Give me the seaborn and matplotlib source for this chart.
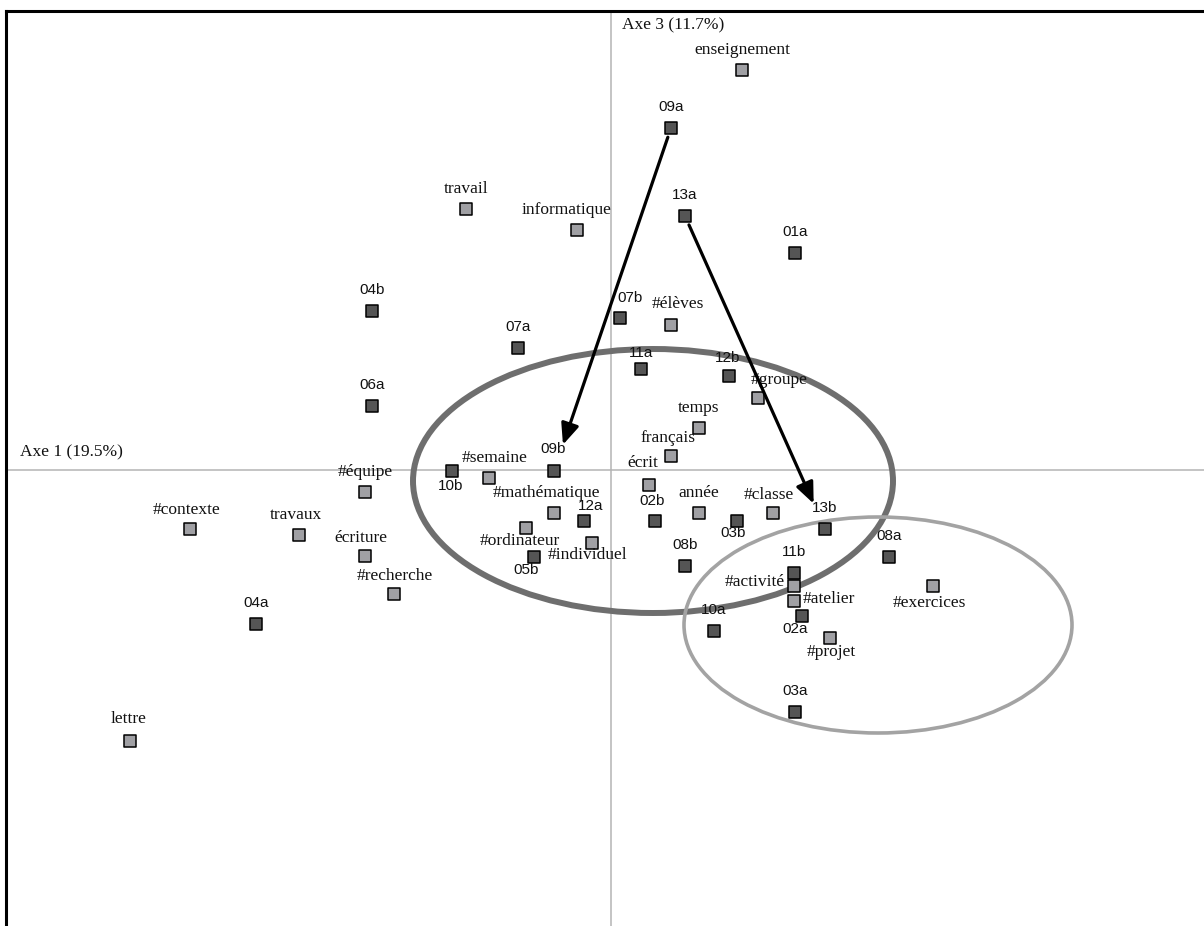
import matplotlib
matplotlib.use("Agg")
import matplotlib.pyplot as plt
from matplotlib.patches import Ellipse
import seaborn as sns
import pandas as pd

sns.set_theme(context='notebook', style="white")

# Factor scores (axe 1 horizontal, axe 3 vertical)
words = ['enseignement', 'travail', 'informatique', '#élèves', '#groupe', 'temps',
         'français', 'écrit', '#semaine', '#équipe', '#mathématique', 'année',
         '#classe', '#contexte', 'travaux', 'écriture', '#ordinateur', '#individuel',
         '#recherche', '#activité', '#atelier', '#exercices', '#projet', 'lettre']
words_x = [0.524, -0.580, -0.136, 0.240, 0.588, 0.352,
           0.240, 0.152, -0.488, -0.984, -0.228, 0.352,
           0.648, -1.684, -1.248, -0.984, -0.340, -0.076,
           -0.868, 0.732, 0.732, 1.288, 0.876, -1.924]
words_y = [1.600, 1.044, 0.960, 0.580, 0.288, 0.168,
           0.056, -0.060, -0.032, -0.088, -0.172, -0.172,
           -0.172, -0.236, -0.260, -0.344, -0.232, -0.292,
           -0.496, -0.464, -0.524, -0.464, -0.672, -1.084]

docs = ['09a', '13a', '01a', '04b', '07b', '07a', '11a', '12b', '06a', '09b',
        '10b', '02b', '12a', '03b', '13b', '05b', '08b', '08a', '11b', '10a',
        '02a', '03a', '04a']
docs_x = [0.240, 0.296, 0.736, -0.956, 0.036, -0.372, 0.120, 0.472, -0.956, -0.228,
          -0.636, 0.176, -0.108, 0.504, 0.856, -0.308, 0.296, 1.112, 0.732, 0.412,
          0.764, 0.736, -1.420]
docs_y = [1.368, 1.016, 0.868, 0.636, 0.608, 0.488, 0.404, 0.376, 0.256, -0.004,
          -0.004, -0.204, -0.204, -0.204, -0.236, -0.348, -0.384, -0.348, -0.412, -0.644,
          -0.584, -0.968, -0.616]

# document moves
moves = [('09a', '09b'), ('13a', '13b')]

# clusters: centre x, centre y, width, height
cluster_x = [0.168, 1.068]
cluster_y = [-0.044, -0.620]
cluster_w = [1.920, 1.552]
cluster_h = [1.056, 0.864]

axis_labels = ['Axe 1 (19.5%)', 'Axe 3 (11.7%)']

# label offsets in pixels (dx, dy up)
label_offsets = {
    'informatique': (-10, 20), '#élèves': (7, 21), '#groupe': (21, 18),
    'français': (-3, 18), 'écrit': (-6, 22), '#semaine': (6, 20),
    '#mathématique': (-8, 20), '#classe': (-4, 18), '#contexte': (-3, 19),
    'travaux': (-3, 20), 'écriture': (-4, 18), '#ordinateur': (-6, -13),
    '#individuel': (-4, -12), '#recherche': (1, 18), '#activité': (-39, 4),
    '#atelier': (35, 2), '#exercices': (-4, -17), '#projet': (1, -14),
    'lettre': (-1, 22), '07b': (10, 20), '11a': (0, 16), '12b': (-1, 18),
    '09b': (-1, 22), '10b': (-1, -15), '12a': (7, 15), '02b': (-3, 20),
    '03b': (-4, -12), '05b': (-8, -13), '02a': (-7, -13),
}

df = pd.concat([
    pd.DataFrame({'label': words, 'x': words_x, 'y': words_y, 'kind': 'mot'}),
    pd.DataFrame({'label': docs, 'x': docs_x, 'y': docs_y, 'kind': 'texte'}),
], ignore_index=True)

fig = plt.figure(figsize=(12.04, 9.26), dpi=100)
ax = fig.add_axes([6 / 1204, 0, 1 - 6 / 1204, 1 - 11 / 926])

ax.axhline(0, color='#b4b4b4', lw=1.1, zorder=1)
ax.axvline(0, color='#b4b4b4', lw=1.1, zorder=1)

ell_colors = ['#6e6e6e', '#a3a3a3']
ell_widths = [4.3, 2.6]
for cx, cy, w, h, c, lw in zip(cluster_x, cluster_y, cluster_w, cluster_h, ell_colors, ell_widths):
    ax.add_patch(Ellipse((cx, cy), w, h, fill=False, edgecolor=c, lw=lw, zorder=2))

sns.scatterplot(data=df, x='x', y='y', hue='kind', palette={'mot': '#a0a0a4', 'texte': '#555555'},
                marker='s', s=72, edgecolor='black', linewidth=1.1, legend=False, ax=ax, zorder=4)

for _, row in df.iterrows():
    default = (0, 20) if row['kind'] == 'mot' else (0, 21)
    dx, dy = label_offsets.get(row['label'], default)
    if row['kind'] == 'mot':
        font = dict(family='Liberation Serif', fontsize=12.5)
    else:
        font = dict(family='Liberation Sans', fontsize=11)
    ax.annotate(row['label'], (row['x'], row['y']), xytext=(dx * 0.72, dy * 0.72),
                textcoords='offset points', ha='center', va='center', color='#111111',
                zorder=5, **font)

pos = dict(zip(df['label'], zip(df['x'], df['y'])))
for a, b in moves:
    ax.annotate('', xy=pos[b], xytext=pos[a],
                arrowprops=dict(arrowstyle='-|>,head_length=0.75,head_width=0.32', mutation_scale=17,
                                color='black', lw=2.3, shrinkA=7, shrinkB=20), zorder=6)

ax.text(-2.364, 0.072, axis_labels[0], family='Liberation Serif', fontsize=12.5,
        ha='left', va='center', color='#111111')
ax.text(0.044, 1.78, axis_labels[1], family='Liberation Serif', fontsize=12.5,
        ha='left', va='center', color='#111111')

ax.set_xlim(-2.42, 2.372)
ax.set_ylim(-1.824, 1.836)
ax.set_xlabel('')
ax.set_ylabel('')
ax.set_xticks([])
ax.set_yticks([])
for side in ['right', 'bottom']:
    ax.spines[side].set_visible(False)
for side in ['left', 'top']:
    ax.spines[side].set_color('black')
    ax.spines[side].set_linewidth(2.2)

fig.savefig('out.png', dpi=100)
